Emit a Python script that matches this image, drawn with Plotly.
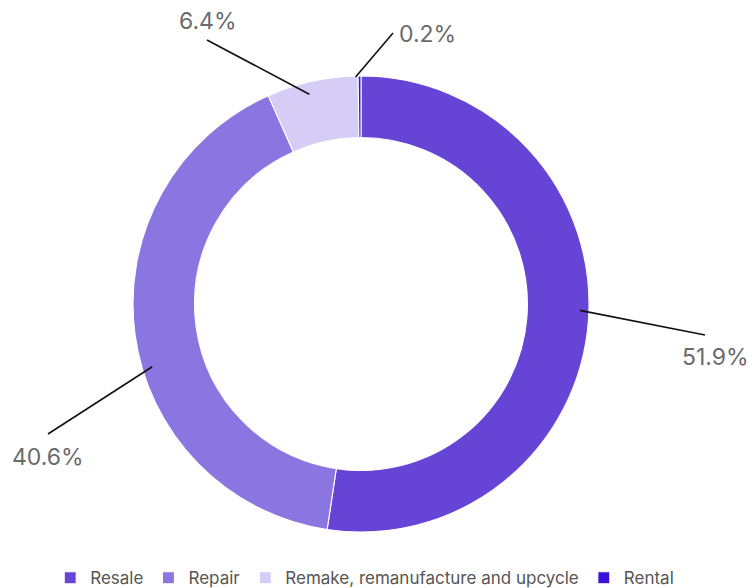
import math
import plotly.graph_objects as go

# ---- data ----
categories = ["Resale", "Repair", "Remake, remanufacture and upcycle", "Rental"]
shares = [51.9, 40.6, 6.4, 0.2]
colors = ["#6644D6", "#8B75E0", "#D5CDF5", "#3A12D8"]

# ---- geometry (pixels) ----
W, H = 752, 588
CX, CY, R = 361, 304, 228
HOLE = 0.73

# label text centres, leader-line ends, anchor radius / angle tweak (styling)
label_xy = [(715, 357), (48, 457), (208, 21), (427, 34)]
line_end = [(705, 335), (48, 434), (207, 40), (393, 33)]
anchor_r = [219, 218, 216, 227]
anchor_shift_deg = [-2.6, -9.0, -1.5, -1.0]


def px(x, y):
    return x / W, 1 - y / H


fig = go.Figure(go.Pie(
    labels=categories,
    values=shares,
    sort=False,
    direction="clockwise",
    rotation=0,
    hole=HOLE,
    marker=dict(colors=colors, line=dict(color="white", width=1.1)),
    textinfo="none",
    hoverinfo="label+percent",
    domain=dict(x=[(CX - R) / W, (CX + R) / W],
                y=[1 - (CY + R) / H, 1 - (CY - R) / H]),
))

total = sum(shares)
cum = 0.0
shapes, annotations = [], []
for i, v in enumerate(shares):
    mid = (cum + v / 2) / total * 2 * math.pi + math.radians(anchor_shift_deg[i])
    cum += v
    ax = CX + anchor_r[i] * math.sin(mid)
    ay = CY - anchor_r[i] * math.cos(mid)
    x0, y0 = px(ax, ay)
    x1, y1 = px(*line_end[i])
    shapes.append(dict(type="line", xref="paper", yref="paper",
                       x0=x0, y0=y0, x1=x1, y1=y1,
                       line=dict(color="#111111", width=1.6)))
    tx, ty = px(*label_xy[i])
    annotations.append(dict(xref="paper", yref="paper", x=tx, y=ty,
                            xanchor="center", yanchor="middle",
                            text=f"{v:.1f}%", showarrow=False,
                            font=dict(size=23, color="#6b6b6b")))

fig.update_layout(
    width=W, height=H,
    margin=dict(l=0, r=0, t=0, b=0, autoexpand=False),
    paper_bgcolor="white",
    plot_bgcolor="white",
    font=dict(family="Inter, Roboto, sans-serif", color="#555555"),
    shapes=shapes,
    annotations=annotations,
    showlegend=True,
    legend=dict(orientation="h", x=0.485, xanchor="center",
                y=-0.014, yanchor="bottom",
                font=dict(size=17, color="#555555"),
                traceorder="normal", itemclick=False),
)

fig.write_html("out.html")
